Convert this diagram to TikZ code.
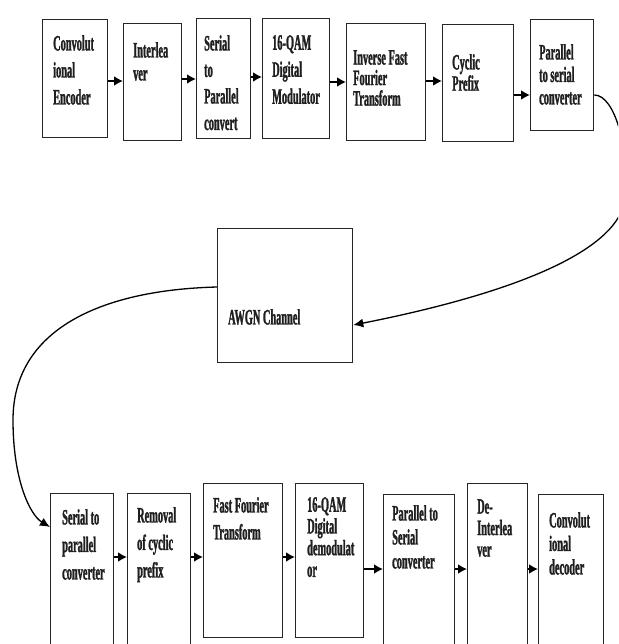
\documentclass[tikz,border=0pt]{standalone}
\usepackage{fontspec}
\newfontfamily\lbfont[FakeStretch=0.47,FakeBold=1.2]{Liberation Serif}
\usetikzlibrary{arrows.meta}
\tikzset{
  box/.style={draw=black!85, line width=1.3pt, inner sep=0pt, anchor=north west},
  lbl/.style={anchor=north west, inner sep=0pt, align=left, text=black!88,
              font=\lbfont\bfseries\fontsize{22pt}{#1pt}\selectfont},
  lbl/.default=24,
  arr/.style={line width=2.2pt, -{Latex[length=9pt,width=10pt]}},
  cur/.style={line width=1.3pt, -{Latex[length=10pt,width=9pt]}}
}
\begin{document}
\begin{tikzpicture}[x=1pt,y=-1pt]
\useasboundingbox (0,0) rectangle (618,644);
\clip (0,0) rectangle (618,644);
\fill[white] (0,0) rectangle (618,644);
% top row
\node[box, minimum width=65pt, minimum height=118pt] (t1) at (42,19) {};
\node[box, minimum width=58pt, minimum height=117pt] (t2) at (123,23) {};
\node[box, minimum width=54pt, minimum height=120pt] (t3) at (196,18) {};
\node[box, minimum width=67pt, minimum height=120pt] (t4) at (262,18) {};
\node[box, minimum width=79pt, minimum height=117pt] (t5) at (346,23) {};
\node[box, minimum width=71pt, minimum height=117pt] (t6) at (442,24) {};
\node[box, minimum width=63pt, minimum height=111pt] (t7) at (530,19) {};
% channel
\node[box, minimum width=135pt, minimum height=134pt] (aw) at (217,228) {};
% bottom row
\node[box, minimum width=63pt, minimum height=200pt] (b1) at (50,493) {};
\node[box, minimum width=63pt, minimum height=200pt] (b2) at (127,493) {};
\node[box, minimum width=79pt, minimum height=154pt] (b3) at (203,483) {};
\node[box, minimum width=68pt, minimum height=154pt] (b4) at (295,483) {};
\node[box, minimum width=71pt, minimum height=200pt] (b5) at (383,494) {};
\node[box, minimum width=60pt, minimum height=200pt] (b6) at (467,483) {};
\node[box, minimum width=65pt, minimum height=200pt] (b7) at (538,494) {};
% labels
\node[lbl=27] (l1) at (53,35) {Convolut\\ional\\Encoder};
\node[lbl=23] (l2) at (133,42) {Interlea\\ver};
\node[lbl=26.5] (l3) at (204,35) {Serial\\to\\Parallel\\convert};
\node[lbl=27] (l4) at (272,35) {16-QAM\\Digital\\Modulator};
\node[lbl=20.5] (l5) at (353,50) {Inverse Fast\\Fourier\\Transform};
\node[lbl=17] (l6) at (452,54) {Cyclic\\Prefix};
\node[lbl=22.5] (l7) at (539,44) {Parallel\\to serial\\converter};
\node[lbl] (la) at (228,309) {AWGN Channel};
\node[lbl=27.5] (m1) at (62,509) {Serial to\\parallel\\converter};
\node[lbl=27.5] (m2) at (137,507) {Removal\\of cyclic\\prefix};
\node[lbl=27] (m3) at (213,497) {Fast Fourier\\Transform};
\node[lbl=21.7] (m4) at (307,497) {16-QAM\\Digital\\demodulat\\or};
\node[lbl=24] (m5) at (392,505) {Parallel to\\Serial\\converter};
\node[lbl=21.5] (m6) at (477,499) {De-\\Interlea\\ver};
\node[lbl=23.5] (m7) at (549,512) {Convolut\\ional\\decoder};
% top arrows
\draw[arr] (t1.east |- 0,81) -- (t2.west |- 0,81);
\draw[arr] (t2.east |- 0,79) -- (t3.west |- 0,79);
\draw[arr] (t3.east |- 0,77) -- (t4.west |- 0,77);
\draw[arr] (t4.east |- 0,82) -- (t5.west |- 0,82);
\draw[arr] (t5.east |- 0,81) -- (t6.west |- 0,81);
\draw[arr] (t6.east |- 0,95) -- (t7.west |- 0,95);
% curves
\draw[cur] (t7.east |- 0,95) .. controls (615,95) and (630,150) .. (625,200)
  .. controls (615,260) and (480,300) .. (aw.east |- 0,325);
\draw[cur] (aw.west |- 0,287) .. controls (100,290) and (13,330) .. (13,420)
  .. controls (13,480) and (30,515) .. (b1.west |- 0,527);
% bottom arrows
\draw[arr] (b1.east |- 0,557) -- (b2.west |- 0,557);
\draw[arr] (b2.east |- 0,557) -- (b3.west |- 0,557);
\draw[arr] (b3.east |- 0,557) -- (b4.west |- 0,557);
\draw[arr] (b4.east |- 0,569) -- (b5.west |- 0,569);
\draw[arr] (b5.east |- 0,569) -- (b6.west |- 0,569);
\draw[arr] (b6.east |- 0,569) -- (b7.west |- 0,569);
\end{tikzpicture}
\end{document}
